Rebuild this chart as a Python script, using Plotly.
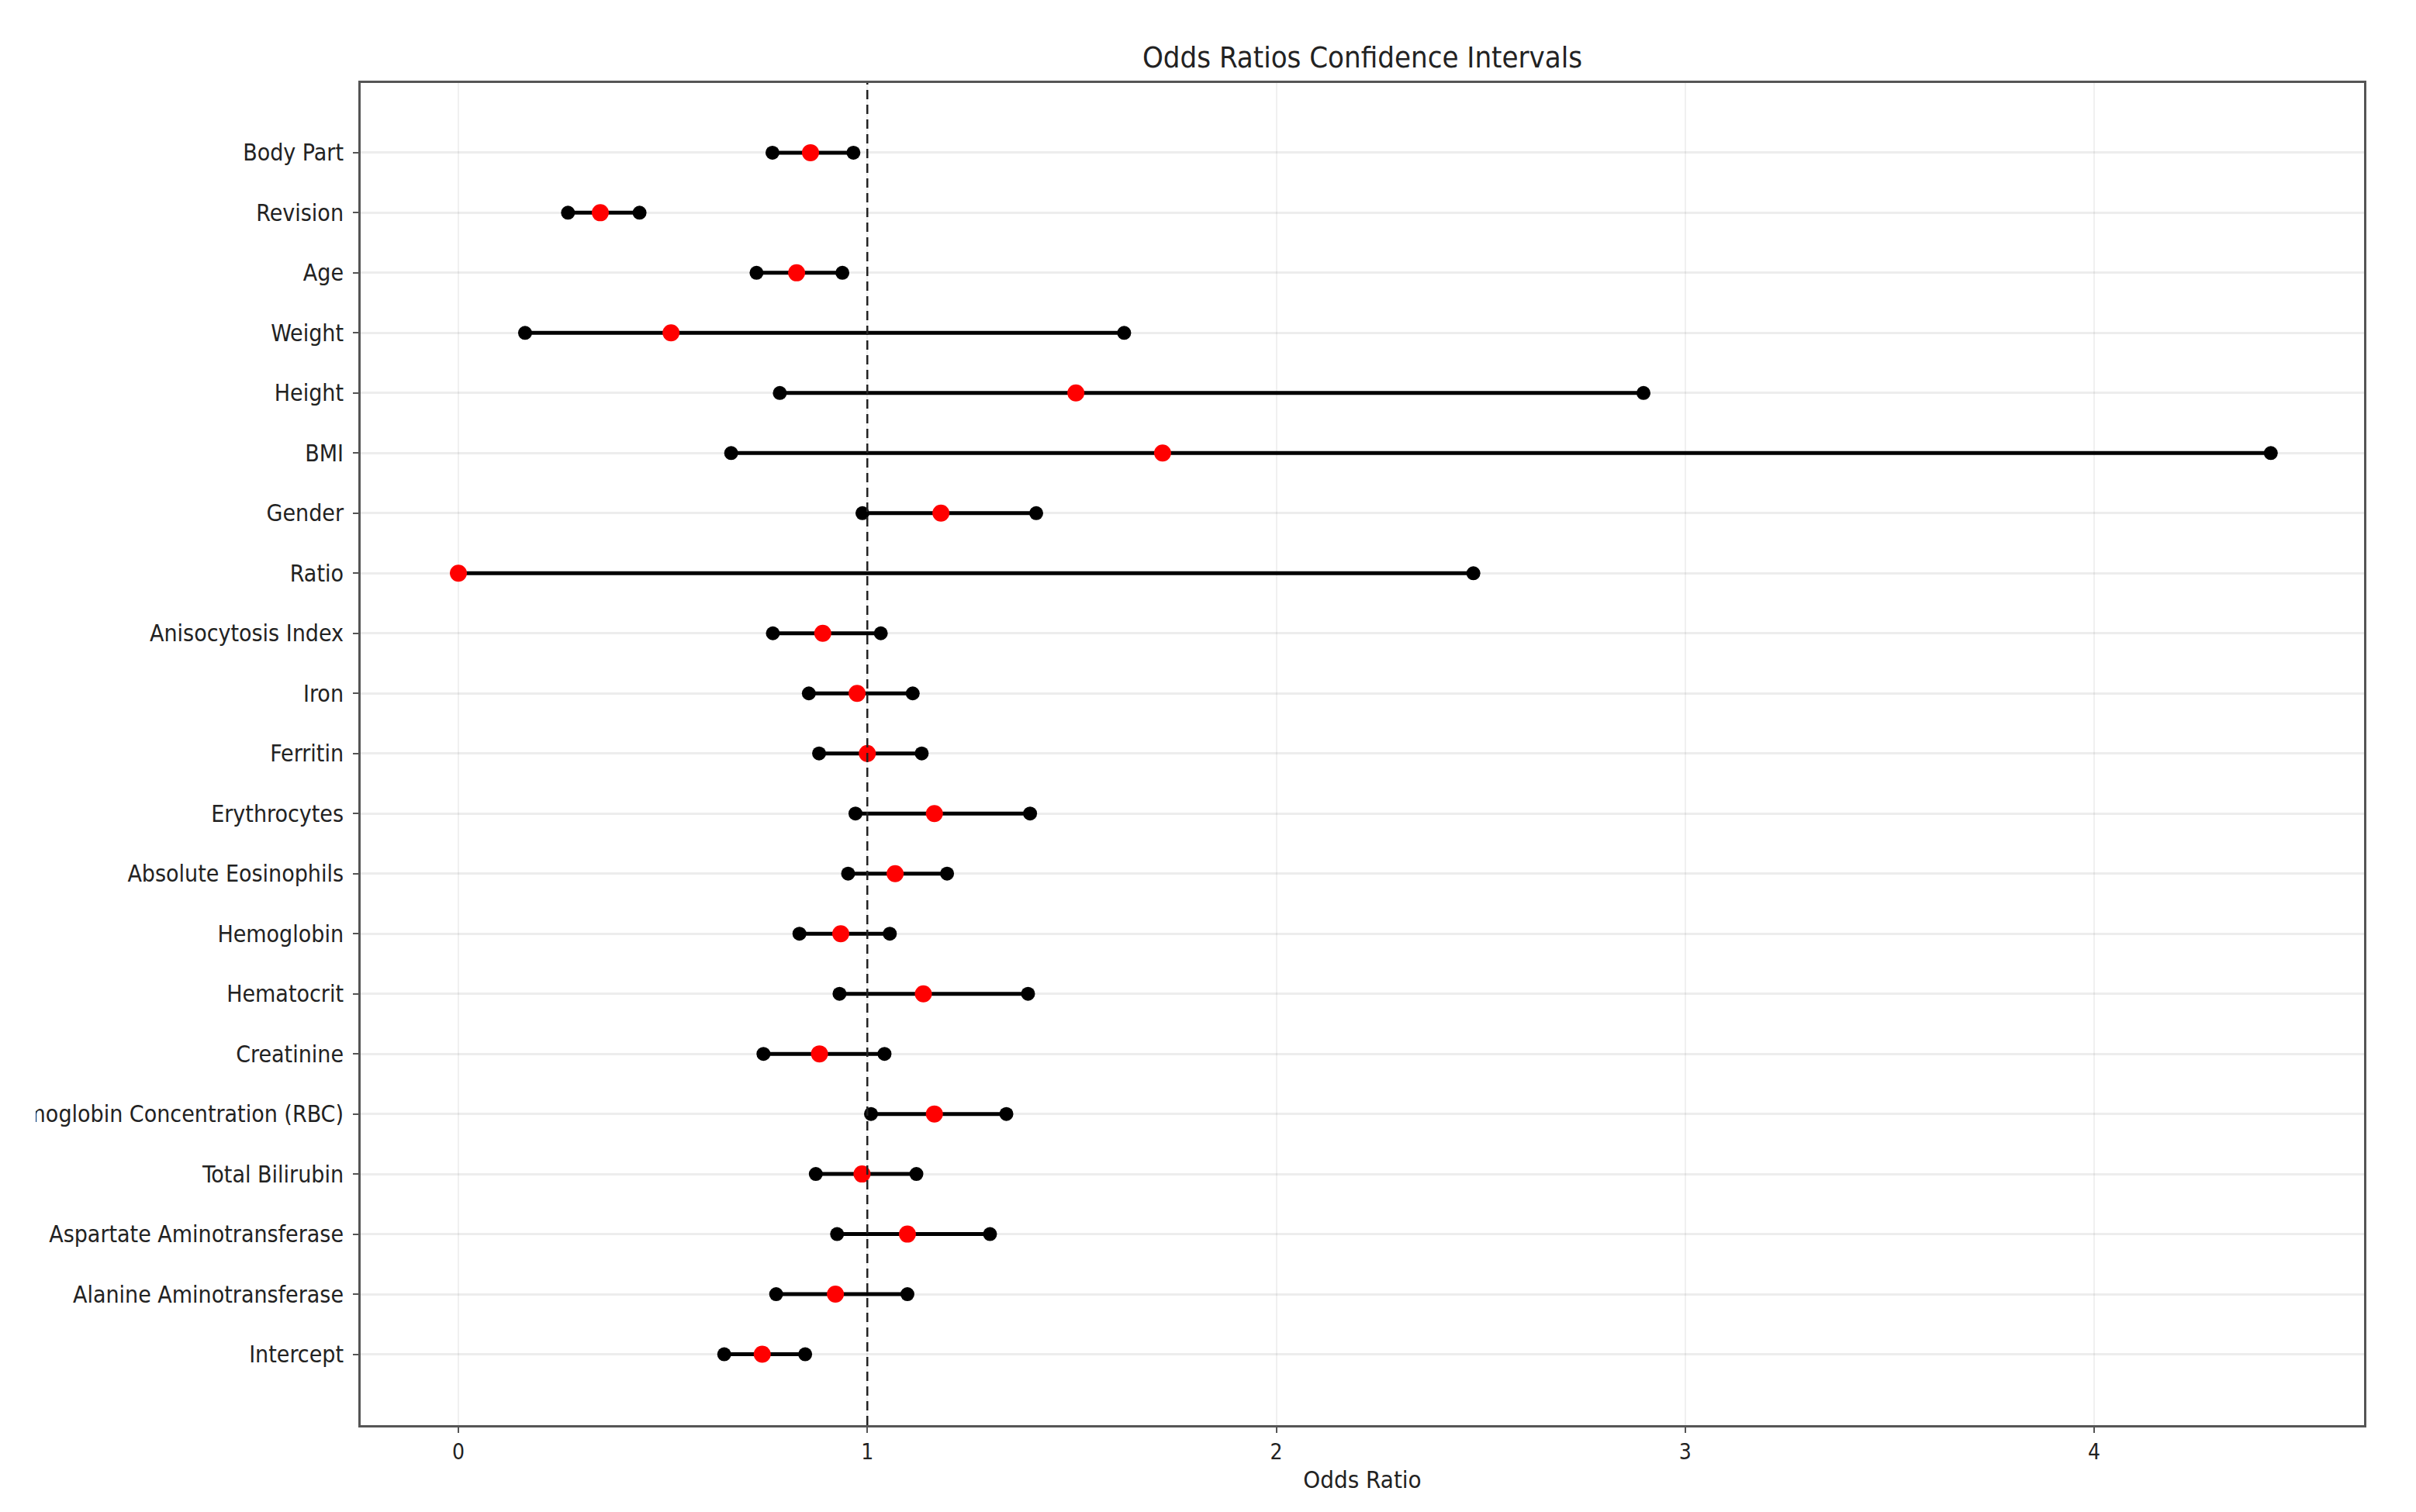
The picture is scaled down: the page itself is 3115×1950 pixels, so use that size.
import plotly.graph_objects as go

categories = [
    "Body Part", "Revision", "Age", "Weight", "Height", "BMI", "Gender", "Ratio",
    "Anisocytosis Index", "Iron", "Ferritin", "Erythrocytes", "Absolute Eosinophils",
    "Hemoglobin", "Hematocrit", "Creatinine",
    "Mean Corpuscular Hemoglobin Concentration (RBC)", "Total Bilirubin",
    "Aspartate Aminotransferase", "Alanine Aminotransferase", "Intercept",
]
odds_ratio = [0.861, 0.347, 0.827, 0.520, 1.510, 1.722, 1.180, 0.0,
              0.891, 0.975, 1.000, 1.164, 1.068, 0.935, 1.137, 0.883,
              1.164, 0.987, 1.098, 0.922, 0.743]
ci_lower = [0.768, 0.268, 0.729, 0.163, 0.786, 0.667, 0.988, 0.0,
            0.769, 0.857, 0.882, 0.971, 0.953, 0.834, 0.932, 0.746,
            1.009, 0.874, 0.926, 0.777, 0.650]
ci_upper = [0.966, 0.443, 0.939, 1.628, 2.898, 4.432, 1.413, 2.482,
            1.033, 1.111, 1.133, 1.398, 1.195, 1.055, 1.393, 1.042,
            1.340, 1.120, 1.300, 1.098, 0.848]
x_ticks = [0, 1, 2, 3, 4]

FONT = "DejaVu Sans Condensed, DejaVu Sans, sans-serif"
W, H = 3115, 1950
ML, MR, MT, MB = 457, 75, 99, 120

fig = go.Figure()

# CI lines
lx, ly = [], []
for c, lo, hi in zip(categories, ci_lower, ci_upper):
    lx += [lo, hi, None]
    ly += [c, c, None]
fig.add_trace(go.Scatter(x=lx, y=ly, mode="lines",
                         line=dict(color="black", width=5),
                         hoverinfo="skip", showlegend=False))
# CI endpoints
fig.add_trace(go.Scatter(x=ci_lower + ci_upper, y=categories + categories,
                         mode="markers",
                         marker=dict(color="black", size=18, line=dict(width=0)),
                         showlegend=False))
# point estimates
fig.add_trace(go.Scatter(x=odds_ratio, y=categories, mode="markers",
                         marker=dict(color="red", size=22, line=dict(width=0)),
                         showlegend=False))

# reference line at OR = 1
fig.add_shape(type="line", xref="x", yref="paper", x0=1, x1=1, y0=0, y1=1,
              line=dict(color="#222", width=2.5, dash="12px,7px"), layer="above")

# figure edge clipping of the long label (as in the source image)
plot_w = W - ML - MR
fig.add_shape(type="rect", xref="paper", yref="paper",
              x0=(-40 - ML) / plot_w, x1=(38 - ML) / plot_w, y0=-0.2, y1=1.2,
              fillcolor="white", line=dict(width=0), layer="above")

fig.update_layout(
    width=W, height=H,
    margin=dict(l=ML, r=MR, t=MT, b=MB, autoexpand=False),
    paper_bgcolor="white", plot_bgcolor="white",
    font=dict(family=FONT, color="#222", size=30),
    title=dict(text="Odds Ratios Confidence Intervals", x=0.5, xref="paper",
               y=1 - 66 / H, yref="container", yanchor="middle", xanchor="center",
               font=dict(size=38, family=FONT, color="#222")),
    xaxis=dict(range=[-0.239, 4.66], tickvals=x_ticks, ticktext=[str(t) for t in x_ticks],
               showgrid=True, gridcolor="rgba(0,0,0,0.06)", gridwidth=2,
               zeroline=False, showline=True, mirror=True, linecolor="#555", linewidth=3,
               ticks="outside", ticklen=7, tickwidth=2, tickcolor="#555",
               tickfont=dict(size=28, family=FONT, color="#222"),
               title=dict(text="Odds Ratio", standoff=10,
                          font=dict(size=31, family=FONT, color="#222"))),
    yaxis=dict(type="category", categoryorder="array", categoryarray=categories,
               range=[len(categories) - 1 + 1.18, -1.16],
               showgrid=True, gridcolor="rgba(0,0,0,0.07)", gridwidth=3,
               zeroline=False, showline=True, mirror=True, linecolor="#555", linewidth=3,
               ticks="outside", ticklen=7, tickwidth=2, tickcolor="#555",
               ticklabelstandoff=6,
               tickfont=dict(size=30, family=FONT, color="#222")),
)

fig.write_html("out.html")
